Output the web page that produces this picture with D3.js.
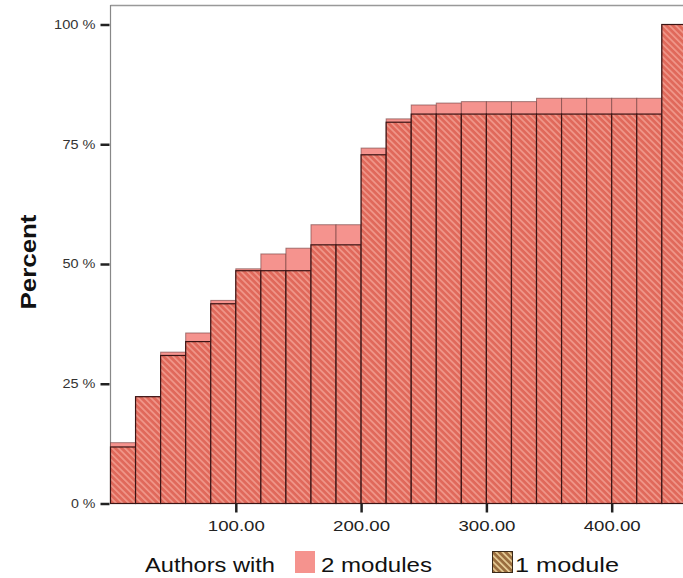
<!DOCTYPE html>
<html>
<head>
  <meta charset="utf-8">
  <script src="https://d3js.org/d3.v7.min.js"></script>
  <style>
    body { margin: 0; background: #fff; }
    svg { display: block; }
  </style>
</head>
<body>
<script>
// bin starts (width 20) for the cumulative histogram
var binStart = [0, 20, 40, 60, 80, 100, 120, 140, 160, 180, 200, 220,
                240, 260, 280, 300, 320, 340, 360, 380, 400, 420, 440];
var binWidth = 20;
// cumulative percent, authors with 2 modules (pink, top of bar)
var twoModules = [12.7, 22.3, 31.6, 35.6, 42.4, 49.0, 52.1, 53.3, 58.2, 58.2, 74.2, 80.3,
                  83.2, 83.6, 83.9, 83.9, 83.9, 84.6, 84.6, 84.6, 84.6, 84.6, 100];
// cumulative percent, authors with 1 module (hatched)
var oneModule = [11.8, 22.3, 30.9, 33.8, 41.7, 48.6, 48.6, 48.6, 54.0, 54.0, 72.8, 79.6,
                 81.3, 81.3, 81.3, 81.3, 81.3, 81.3, 81.3, 81.3, 81.3, 81.3, 100];
var xTicks = [100, 200, 300, 400];
var yTicks = [0, 25, 50, 75, 100];

var W = 683, H = 578;
var font = "Liberation Sans, Arial, sans-serif";
var svg = d3.select("body").append("svg").attr("width", W).attr("height", H);

var defs = svg.append("defs");
function hatch(id, base, stripe) {
  var p = defs.append("pattern").attr("id", id)
    .attr("patternUnits", "userSpaceOnUse")
    .attr("width", 4.5).attr("height", 4.5)
    .attr("patternTransform", "rotate(-45)");
  p.append("rect").attr("width", 4.5).attr("height", 4.5).attr("fill", base);
  p.append("rect").attr("width", 1.7).attr("height", 4.5).attr("fill", stripe);
}
hatch("hatchRed", "#e0695b", "#f0978a");
hatch("hatchBrown", "#9a6d3e", "#e6cc96");

var x = d3.scaleLinear().domain([0, 100]).range([110.5, 235.8]);
var y = d3.scaleLinear().domain([0, 100]).range([503.5, 24.5]);

// frame
svg.append("line").attr("x1", 110.5).attr("x2", W).attr("y1", 5.5).attr("y2", 5.5)
  .attr("stroke", "#999").attr("stroke-width", 1.5);
svg.append("line").attr("x1", 110.5).attr("x2", 110.5).attr("y1", 5).attr("y2", 504)
  .attr("stroke", "#888").attr("stroke-width", 1.2);

var bars = svg.append("g");
// 2 modules (pink) behind
bars.selectAll("rect.two").data(binStart).enter().append("rect")
  .attr("class", "two")
  .attr("x", function (d) { return x(d); })
  .attr("width", x(binWidth) - x(0))
  .attr("y", function (d, i) { return y(twoModules[i]); })
  .attr("height", function (d, i) { return y(0) - y(twoModules[i]); })
  .attr("fill", "#f5938e")
  .attr("stroke", "#6a3a3a").attr("stroke-opacity", 0.6).attr("stroke-width", 1);
// 1 module (hatched) on top
bars.selectAll("rect.one").data(binStart).enter().append("rect")
  .attr("class", "one")
  .attr("x", function (d) { return x(d); })
  .attr("width", x(binWidth) - x(0))
  .attr("y", function (d, i) { return y(oneModule[i]); })
  .attr("height", function (d, i) { return y(0) - y(oneModule[i]); })
  .attr("fill", "url(#hatchRed)")
  .attr("stroke", "#3a1414").attr("stroke-width", 1.2);

// y axis ticks
var yAxis = d3.axisLeft(y).tickValues(yTicks).tickSize(9).tickPadding(5)
  .tickFormat(function (d) { return d + " %"; });
var gy = svg.append("g").attr("transform", "translate(109.5,0)").call(yAxis);
gy.select(".domain").remove();
gy.selectAll(".tick line").attr("stroke", "#222").attr("stroke-width", 2.5);
gy.selectAll(".tick text").attr("font-family", font)
  .attr("font-size", 12).attr("fill", "#333")
  .attr("textLength", function (d) { return String(d).length * 8.5 + 16; })
  .attr("lengthAdjust", "spacingAndGlyphs");

// x axis ticks
var xAxis = d3.axisBottom(x).tickValues(xTicks).tickSize(9).tickPadding(9)
  .tickFormat(d3.format(".2f"));
var gx = svg.append("g").attr("transform", "translate(0,503.5)").call(xAxis);
gx.select(".domain").remove();
gx.selectAll(".tick line").attr("stroke", "#222").attr("stroke-width", 2.5);
gx.selectAll(".tick text").attr("font-family", font)
  .attr("font-size", 14).attr("fill", "#222")
  .attr("textLength", 57).attr("lengthAdjust", "spacingAndGlyphs");

// y title
svg.append("text").attr("transform", "translate(36,262) rotate(-90)")
  .attr("text-anchor", "middle")
  .attr("font-family", font)
  .attr("font-size", 22).attr("font-weight", "bold").attr("fill", "#111")
  .attr("textLength", 95).attr("lengthAdjust", "spacingAndGlyphs")
  .text("Percent");

// legend
function legendText(tx, len, label) {
  svg.append("text").attr("x", tx).attr("y", 572).attr("font-family", font)
    .attr("font-size", 20).attr("fill", "#111")
    .attr("textLength", len).attr("lengthAdjust", "spacingAndGlyphs")
    .text(label);
}
legendText(145, 130, "Authors with");
svg.append("rect").attr("x", 295).attr("y", 551).attr("width", 20).attr("height", 22)
  .attr("fill", "#f5938e");
legendText(321, 111, "2 modules");
svg.append("rect").attr("x", 492.5).attr("y", 551.5).attr("width", 20).attr("height", 21)
  .attr("fill", "url(#hatchBrown)").attr("stroke", "#3a2a1a").attr("stroke-width", 1);
legendText(515, 104, "1 module");
</script>
</body>
</html>
